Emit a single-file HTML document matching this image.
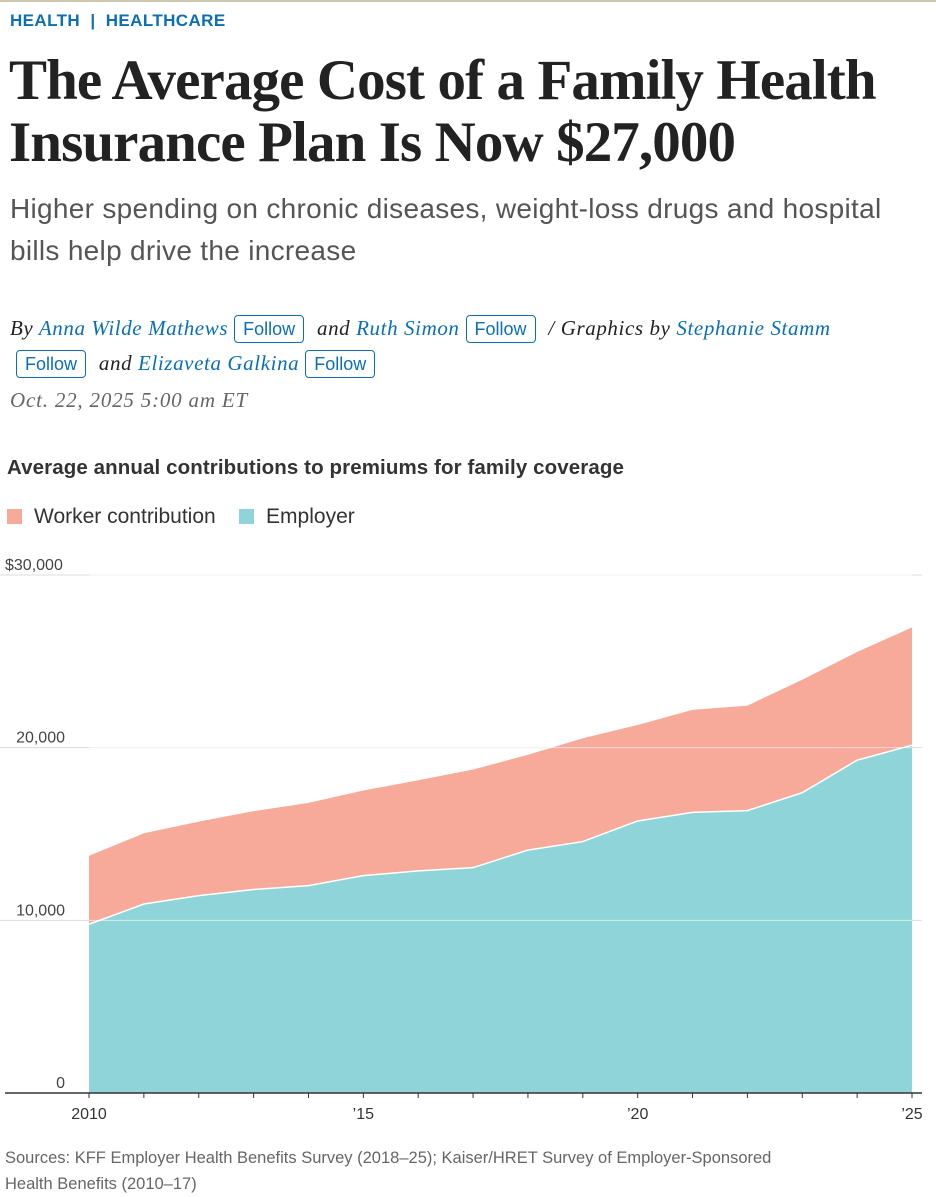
<!DOCTYPE html>
<html><head><meta charset="utf-8">
<style>
body{margin:0;width:936px;height:1196px;background:#fff;overflow:hidden;position:relative;font-family:"Liberation Sans",sans-serif;}
.topbar{position:absolute;left:0;top:0;width:936px;height:2px;background:#cbc6b0;}
.kicker{position:absolute;left:10px;top:11px;font-size:17px;font-weight:bold;color:#0a6fb5;letter-spacing:0.4px;}
.title{position:absolute;left:9px;top:50px;font-family:"Liberation Serif",serif;font-weight:bold;font-size:57px;line-height:62px;color:#222;letter-spacing:-0.9px;white-space:nowrap;}
.sub{position:absolute;left:10px;top:188px;font-size:28px;line-height:42px;color:#555;width:925px;letter-spacing:0.3px;}
.by{position:absolute;left:10px;top:311px;font-family:"Liberation Serif",serif;font-style:italic;font-size:21px;letter-spacing:0.6px;line-height:35px;color:#222;width:926px;white-space:nowrap;}
.by a{color:#0a6fb5;text-decoration:none;}
.fb{display:inline-block;font-family:"Liberation Sans",sans-serif;font-style:normal;font-size:18px;letter-spacing:0;color:#0a6fb5;border:1px solid #0a6fb5;border-radius:4px;padding:2px 8px;line-height:22px;margin:0 7px 0 6px;}
.date{position:absolute;left:10px;top:388px;font-family:"Liberation Serif",serif;font-style:italic;font-size:21px;letter-spacing:0.8px;color:#666;}
.ctitle{position:absolute;left:7px;top:456px;font-size:20.5px;font-weight:bold;color:#333;letter-spacing:0.1px;}
.legend{position:absolute;left:7px;top:505px;font-size:21px;color:#333;}
.sw{display:inline-block;width:15px;height:15px;vertical-align:-1px;margin-right:12px;}
.src{position:absolute;left:5px;top:1145px;font-family:"Liberation Sans Narrow","Liberation Sans",sans-serif;font-size:16.5px;line-height:26px;color:#666;width:800px;}
svg{position:absolute;left:0;top:0;}
</style></head><body>
<div class="topbar"></div>
<div class="kicker">HEALTH &nbsp;|&nbsp; HEALTHCARE</div>
<div class="title">The Average Cost of a Family Health<br>Insurance Plan Is Now $27,000</div>
<div class="sub">Higher spending on chronic diseases, weight-loss drugs and hospital bills help drive the increase</div>
<div class="by">By <a>Anna Wilde Mathews</a><span class="fb">Follow</span> and <a>Ruth Simon</a><span class="fb">Follow</span> / Graphics by <a>Stephanie Stamm</a><br><span class="fb" style="margin-left:6px">Follow</span> and <a>Elizaveta Galkina</a><span class="fb">Follow</span></div>
<div class="date">Oct. 22, 2025 5:00 am ET</div>
<div class="ctitle">Average annual contributions to premiums for family coverage</div>
<div class="legend"><span><span class="sw" style="background:#f7a99a"></span>Worker contribution</span>&nbsp;&nbsp;&nbsp; <span><span class="sw" style="background:#8fd4d8"></span>Employer</span></div>
<svg id="chart" width="936" height="1196"></svg>
<div class="src">Sources: KFF Employer Health Benefits Survey (2018–25); Kaiser/HRET Survey of Employer-Sponsored Health Benefits (2010–17)</div>
<script>
const years=[2010,2011,2012,2013,2014,2015,2016,2017,2018,2019,2020,2021,2022,2023,2024,2025];
const totalPremium=[13770,15073,15745,16351,16834,17545,18142,18764,19616,20576,21342,22221,22463,23968,25572,26993];
const workerContribution=[3997,4129,4316,4565,4823,4955,5277,5714,5547,6015,5588,5969,6106,6575,6296,6850];
const yTicks=[0,10000,20000,30000];
const yTickLabels=["0","10,000","20,000","$30,000"];
const xTickYears=[2010,2015,2020,2025];
const xTickLabels=["2010","’15","’20","’25"];
const NS="http://www.w3.org/2000/svg";
const svg=document.getElementById('chart');
const xs=v=>89+(v-2010)*(912-89)/15;
const ys=v=>1093-v*(1093-575)/30000;
function mk(t,a){const e=document.createElementNS(NS,t);for(const k in a)e.setAttribute(k,a[k]);svg.appendChild(e);return e;}
const employer=totalPremium.map((t,i)=>t-workerContribution[i]);
yTicks.forEach(v=>{
  if(v>0){const g=mk('line',{x1:0,x2:922,y1:ys(v),y2:ys(v),stroke:'#ddd','stroke-width':1});
  
  }
});
const topPts=years.map((yr,i)=>xs(yr)+','+ys(totalPremium[i])).join(' L');
const botPts=years.map((yr,i)=>xs(yr)+','+ys(employer[i])).reverse().join(' L');
const wa=mk('path',{d:'M'+topPts+' L'+botPts+' Z',fill:'#f7a99a'});


const empPts=years.map((yr,i)=>xs(yr)+','+ys(employer[i])).join(' L');
const eaP=mk('path',{d:'M'+empPts+' L'+xs(2025)+','+ys(0)+' L'+xs(2010)+','+ys(0)+' Z',fill:'#8fd4d8'});


yTicks.forEach((v,i)=>{
  if(v>0){const g=mk('line',{x1:xs(2010),x2:xs(2025),y1:ys(v),y2:ys(v),stroke:'#fff','stroke-opacity':0.6,'stroke-width':1});
  
  }
  const t=mk('text',{x:i==3?5:65,y:ys(v)-5,'text-anchor':i==3?'start':'end','font-size':16,fill:'#444','font-family':'"Liberation Sans Narrow","Liberation Sans",sans-serif'});
  t.textContent=yTickLabels[i];
  
  
});
const el=mk('path',{d:'M'+empPts,fill:'none',stroke:'#fff','stroke-width':1.5});


const tl=mk('path',{d:'M'+topPts,fill:'none',stroke:'#fff','stroke-width':1});


const ax=mk('line',{x1:5,x2:922,y1:ys(0),y2:ys(0),stroke:'#333','stroke-width':1.5});


years.forEach(yr=>{
  const tk=mk('line',{x1:xs(yr),x2:xs(yr),y1:ys(0),y2:ys(0)+5,stroke:'#333','stroke-width':1});
  
  
});
xTickYears.forEach((yr,i)=>{
  const t=mk('text',{x:xs(yr),y:1119,'text-anchor':'middle','font-size':16,fill:'#333','font-family':'"Liberation Sans Narrow","Liberation Sans",sans-serif'});
  t.textContent=xTickLabels[i];
  
  
});
</script>
</body></html>
